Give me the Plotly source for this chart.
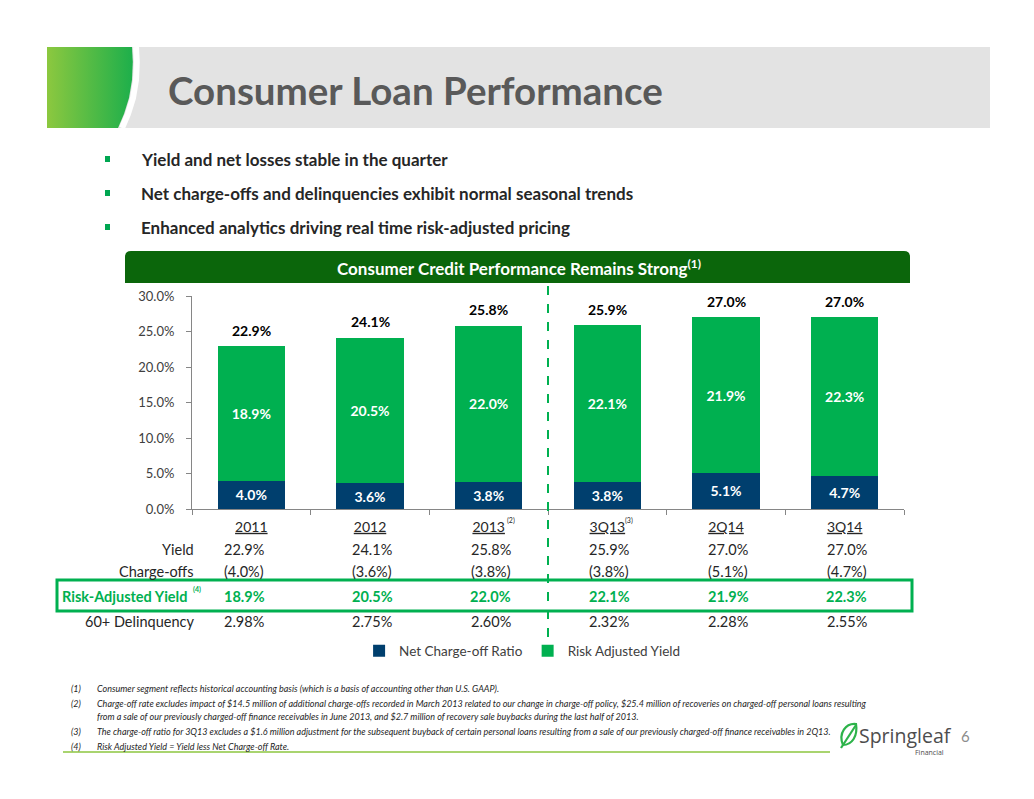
import plotly.graph_objects as go

# chart data
categories = ["2011", "2012", "2013", "3Q13", "2Q14", "3Q14"]
charge_off = [4.0, 3.6, 3.8, 3.8, 5.1, 4.7]
risk_adjusted = [18.9, 20.5, 22.0, 22.1, 21.9, 22.3]
yield_total = [22.9, 24.1, 25.8, 25.9, 27.0, 27.0]
delinquency = [2.98, 2.75, 2.60, 2.32, 2.28, 2.55]
header_notes = {"2013": "(2)", "3Q13": "(3)"}

title = "Consumer Loan Performance"
bullets = [
    "Yield and net losses stable in the quarter",
    "Net charge-offs and delinquencies exhibit normal seasonal trends",
    "Enhanced analytics driving real time risk-adjusted pricing",
]
banner = "Consumer Credit Performance Remains Strong<sup>(1)</sup>"
footnotes = [
    ("(1)", "Consumer segment reflects historical accounting basis (which is a basis of accounting other than U.S. GAAP)."),
    ("(2)", "Charge-off rate excludes impact of $14.5 million of additional charge-offs recorded in March 2013 related to our change in charge-off policy, $25.4 million of recoveries on charged-off personal loans resulting"),
    ("", "from a sale of our previously charged-off finance receivables in June 2013, and $2.7 million of recovery sale buybacks during the last half of 2013."),
    ("(3)", "The charge-off ratio for 3Q13 excludes a $1.6 million adjustment for the subsequent buyback of certain personal loans resulting from a sale of our previously charged-off finance receivables in 2Q13."),
    ("(4)", "Risk Adjusted Yield = Yield less Net Charge-off Rate."),
]

# page is 1034x799, the browser body adds an 8px margin
PAGE_W, PAGE_H, OFF = 1034, 799, 8
W, H = PAGE_W - 2 * OFF, PAGE_H - 2 * OFF
FONT = "Lato, 'Open Sans', sans-serif"
NAVY = "#003F6E"
GREEN = "#00B050"
DARK = "#262626"


def dom_x(a, b):
    return [(a - OFF) / W, (b - OFF) / W]


def dom_y(top, bottom):
    return [1 - (bottom - OFF) / H, 1 - (top - OFF) / H]


fig = go.Figure()

fig.add_trace(go.Bar(
    x=categories, y=charge_off, name="Net Charge-off Ratio",
    marker=dict(color=NAVY, line=dict(width=0)),
    texttemplate="%{y:.1f}%", textposition="inside", insidetextanchor="middle",
    textfont=dict(color="white", size=14, family=FONT, weight="bold"),
    constraintext="none",
))
fig.add_trace(go.Bar(
    x=categories, y=risk_adjusted, name="Risk Adjusted Yield",
    marker=dict(color=GREEN, line=dict(width=0)),
    texttemplate="%{y:.1f}%", textposition="inside", insidetextanchor="middle",
    textfont=dict(color="white", size=14, family=FONT, weight="bold"),
    constraintext="none",
))

# header decoration on a page-pixel overlay axis
curve = [(132, 47), (132.8, 62), (132, 80), (129, 98), (124, 114), (118, 128)]
gx = [47] + [p[0] for p in curve] + [47]
gy = [47] + [p[1] for p in curve] + [128]
fig.add_trace(go.Scatter(
    x=[p[0] + 4 for p in curve], y=[p[1] for p in curve], xaxis="x2", yaxis="y2",
    mode="lines", line=dict(color="white", width=6), showlegend=False, hoverinfo="skip",
))
fig.add_trace(go.Scatter(
    x=gx, y=gy, xaxis="x2", yaxis="y2", mode="lines", fill="toself",
    line=dict(width=0, color="rgba(0,0,0,0)"),
    fillgradient=dict(type="horizontal", colorscale=[[0, "#8CC83F"], [1, "#1DAF4B"]]),
    showlegend=False, hoverinfo="skip",
))

annotations = []

# totals above bars
for i, t in enumerate(yield_total):
    annotations.append(dict(
        x=i, y=t, xref="x", yref="y", yshift=16, text=f"<b>{t:.1f}%</b>",
        showarrow=False, font=dict(size=14, color="black", family=FONT),
    ))

# table rows
rows = [
    ("Yield", [f"{v:.1f}%" for v in yield_total], 549, DARK, False),
    ("Charge-offs", [f"({v:.1f}%)" for v in charge_off], 571, DARK, False),
    ("Risk-Adjusted Yield", [f"{v:.1f}%" for v in risk_adjusted], 596, GREEN, True),
    ("60+ Delinquency", [f"{v:.2f}%" for v in delinquency], 621, DARK, False),
]
for label, vals, y, color, bold in rows:
    lab = f"<b>{label}</b>" if bold else label
    annotations.append(dict(
        x=196 if not bold else 189, y=y, xref="x2", yref="y2", xanchor="right", text=lab,
        showarrow=False, font=dict(size=14.5, color=color, family=FONT),
    ))
    for i, v in enumerate(vals):
        txt = f"<b>{v}</b>" if bold else v
        annotations.append(dict(
            x=i, y=y, xref="x", yref="y2", xshift=-7 if i == 0 else 2, text=txt,
            showarrow=False, font=dict(size=14.5, color=color, family=FONT),
        ))
annotations.append(dict(
    x=197, y=589, xref="x2", yref="y2", text="<b>(4)</b>", showarrow=False,
    font=dict(size=7, color=GREEN, family=FONT),
))
for c, note in header_notes.items():
    annotations.append(dict(
        x=categories.index(c), y=520, xref="x", yref="y2", xshift=22, text=note,
        showarrow=False, font=dict(size=7, color=DARK, family=FONT),
    ))

# title, bullets, banner
annotations.append(dict(
    x=166, y=90, xref="x2", yref="y2", xanchor="left", text=f"<b>{title}</b>",
    showarrow=False, font=dict(size=38.5, color="#595959", family=FONT),
))
for i, b in enumerate(bullets):
    annotations.append(dict(
        x=139, y=159 + 34 * i, xref="x2", yref="y2", xanchor="left", text=f"<b>{b}</b>",
        showarrow=False, font=dict(size=17, color=DARK, family=FONT),
    ))
annotations.append(dict(
    x=519, y=267, xref="x2", yref="y2", text=f"<b>{banner}</b>", showarrow=False,
    font=dict(size=17, color="white", family=FONT),
))

# footnotes
fy = [688, 703, 716, 731, 746]
for (num, txt), y in zip(footnotes, fy):
    if num:
        annotations.append(dict(
            x=69, y=y, xref="x2", yref="y2", xanchor="left", text=f"<i>{num}</i>",
            showarrow=False, font=dict(size=9, color=DARK, family=FONT),
        ))
    annotations.append(dict(
        x=95, y=y, xref="x2", yref="y2", xanchor="left", text=f"<i>{txt}</i>",
        showarrow=False, font=dict(size=9, color=DARK, family=FONT),
    ))

# logo + page number
annotations.append(dict(
    x=857, y=735, xref="x2", yref="y2", xanchor="left", text="Springleaf",
    showarrow=False, font=dict(size=19.5, color="#4D4D4D", family="'Open Sans', sans-serif"),
))
annotations.append(dict(
    x=946, y=752, xref="x2", yref="y2", xanchor="right", text="Financial",
    showarrow=False, font=dict(size=7, color="#4D4D4D", family="'Open Sans', sans-serif"),
))
annotations.append(dict(
    x=965, y=736, xref="x2", yref="y2", text="6",
    showarrow=False, font=dict(size=15, color="#8C8C8C", family=FONT),
))

shapes = [
    # gray header band
    dict(type="rect", xref="x2", yref="y2", x0=118, x1=990, y0=47, y1=128,
         fillcolor="#E3E3E3", line=dict(width=0), layer="below"),
    # banner
    dict(type="path", xref="x2", yref="y2",
         path="M 131,251 L 904,251 Q 910,251 910,257 L 910,283 L 125,283 L 125,257 Q 125,251 131,251 Z",
         fillcolor="#0B660B", line=dict(width=0), layer="below"),
    # divider between annual and quarterly columns
    dict(type="line", xref="x", yref="y2", x0=2.5, x1=2.5, y0=286, y1=638,
         line=dict(color=GREEN, width=2, dash="dash")),
    # risk-adjusted box
    dict(type="rect", xref="x2", yref="y2", x0=57, x1=912, y0=580, y1=611,
         line=dict(color=GREEN, width=3), fillcolor="rgba(0,0,0,0)"),
    # bottom rule
    dict(type="line", xref="x2", yref="y2", x0=63, x1=830, y0=752, y1=752,
         line=dict(color="#8DC63F", width=1.5)),
    # leaf
    dict(type="path", xref="x2", yref="y2",
         path="M 843,745 C 838,733 846,723 856,724 C 858,736 852,745 843,745 Z",
         line=dict(color="#2DB34A", width=2.2), fillcolor="rgba(0,0,0,0)"),
    dict(type="line", xref="x2", yref="y2", x0=841, x1=856, y0=748, y1=725,
         line=dict(color="#2DB34A", width=2.2)),
]
for i in range(len(bullets)):
    shapes.append(dict(type="rect", xref="x2", yref="y2", x0=105, x1=110,
                       y0=156 + 34 * i, y1=162 + 34 * i,
                       fillcolor="#00A651", line=dict(width=0)))

fig.update_layout(
    template="none",
    width=W, height=H,
    margin=dict(l=0, r=0, t=0, b=0, pad=0, autoexpand=False),
    paper_bgcolor="white", plot_bgcolor="rgba(0,0,0,0)",
    barmode="stack", bargap=0.43,
    font=dict(family=FONT, size=12, color="#404040"),
    xaxis=dict(
        type="category", domain=dom_x(192, 904), range=[-0.5, 5.5],
        tickvals=categories, ticktext=[f"<u>{c}</u>" for c in categories],
        tickson="boundaries", ticks="outside", ticklen=5, tickcolor="#868686",
        showline=True, linecolor="#868686", linewidth=1,
        tickfont=dict(size=14, color=DARK), ticklabelstandoff=5,
        showgrid=False, fixedrange=True, automargin=False,
    ),
    yaxis=dict(
        domain=dom_y(296, 509), range=[0, 30], dtick=5,
        tickformat=".1f", ticksuffix="%", ticks="outside", ticklen=5, tickcolor="#868686",
        showline=True, linecolor="#868686", linewidth=1, showgrid=False, zeroline=False,
        tickfont=dict(size=13, color="#404040"), ticklabelstandoff=9,
        fixedrange=True, automargin=False,
    ),
    xaxis2=dict(domain=[0, 1], range=[OFF, OFF + W], visible=False, anchor="y2", fixedrange=True),
    yaxis2=dict(domain=[0, 1], range=[OFF + H, OFF], visible=False, anchor="x2", fixedrange=True),
    legend=dict(orientation="h", x=0.505, xanchor="center", y=1 - (651 - OFF) / H, yanchor="middle",
                traceorder="normal", font=dict(size=13.5, color="#404040"), itemwidth=30,
                bgcolor="rgba(0,0,0,0)"),
    annotations=annotations,
    shapes=shapes,
    showlegend=True,
)

fig.write_html("out.html")
